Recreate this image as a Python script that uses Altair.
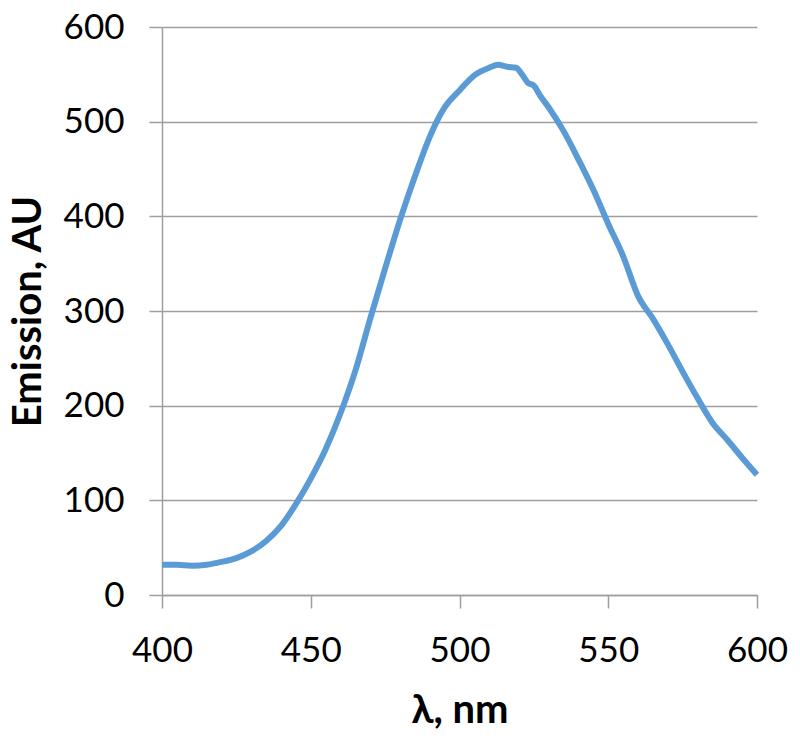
import altair as alt
import pandas as pd

wavelength = [400, 405, 410, 415, 420, 425, 430, 435, 440, 445, 450, 455, 460, 465,
              470, 475, 480, 485, 490, 495, 500, 505, 510, 513, 516, 519, 521, 523,
              525, 527, 530, 535, 540, 545, 550, 555, 560, 565, 570, 575, 580, 585,
              590, 595, 600]
emission = [32, 32, 31, 32, 35, 39, 46, 57, 73, 96, 123, 154, 192, 237,
            292, 345, 396, 442, 484, 515, 533, 549, 557, 560, 558, 557, 550, 541,
            538, 528, 515, 490, 460, 428, 392, 358, 316, 292, 265, 236, 208, 182,
            164, 145, 127]

x_ticks = [400, 450, 500, 550, 600]
y_ticks = [0, 100, 200, 300, 400, 500, 600]

df = pd.DataFrame({"wl": wavelength, "em": emission})

FONT = "Lato"
GRID = "#9e9e9e"

chart = alt.Chart(df).mark_line(color="#5b9bd5", strokeWidth=6, interpolate="monotone").encode(
    x=alt.X("wl:Q", scale=alt.Scale(domain=[400, 600], nice=False),
            axis=alt.Axis(values=x_ticks, title="λ, nm", grid=False, labelFlush=False,
                          domainColor=GRID, domainWidth=1.5, tickColor=GRID, tickWidth=1.5,
                          tickSize=13, labelFontSize=35, labelFont=FONT, labelColor="black",
                          labelPadding=25, titleFontSize=40, titleFont=FONT, titleFontWeight="bold",
                          titleColor="black", titleY=127, titleBaseline="alphabetic")),
    y=alt.Y("em:Q", scale=alt.Scale(domain=[0, 600], nice=False),
            axis=alt.Axis(values=y_ticks, title="Emission, AU", grid=True, gridColor=GRID,
                          labelFlush=False,
                          gridWidth=1.5, domainColor=GRID, domainWidth=1.5, tickColor=GRID,
                          tickWidth=1.5, tickSize=13, labelFontSize=35, labelFont=FONT,
                          labelColor="black", labelPadding=25, titleFontSize=40, titleFont=FONT,
                          titleFontWeight="bold", titleColor="black", titleX=-122, titleY=284,
                          titleBaseline="alphabetic", titleAngle=270)),
).properties(
    width=595, height=568,
    autosize=alt.AutoSizeParams(type="none"),
    padding={"left": 154, "top": 19, "right": 35, "bottom": 140},
).configure_view(stroke=None)

chart.save("out.html", embed_options={"renderer": "svg", "actions": False})
